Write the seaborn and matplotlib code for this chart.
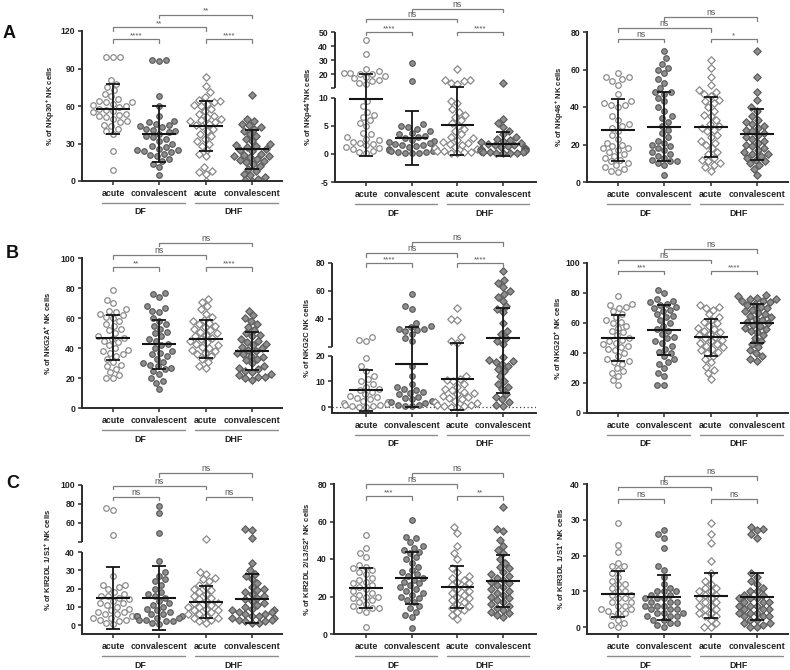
import warnings
warnings.filterwarnings('ignore')
import numpy as np
import pandas as pd
import matplotlib
matplotlib.use('Agg')
import matplotlib.pyplot as plt
import matplotlib.transforms as mtransforms
import seaborn as sns

# ------------------------------------------------------------------ data
groups = ['DF acute', 'DF convalescent', 'DHF acute', 'DHF convalescent']
tick_labels = ['acute', 'convalescent', 'acute', 'convalescent']
cohorts = ['DF', 'DHF']

# NKp30
nkp30_df_acute = [99, 99, 99, 81, 78, 75, 73, 70, 68, 66, 64, 63, 63, 62, 61, 60, 59, 58, 57, 56, 55, 54,
                  53, 52, 51, 50, 48, 47, 45, 44, 42, 40, 38, 24, 9]
nkp30_df_conv = [97, 97, 96, 68, 60, 52, 48, 47, 46, 45, 44, 43, 42, 41, 40, 39, 38, 36, 35, 34, 32, 30,
                 28, 27, 26, 25, 25, 24, 23, 22, 21, 20, 18, 16, 14, 11, 5]
nkp30_dhf_acute = [83, 76, 71, 67, 65, 64, 63, 62, 61, 60, 58, 56, 54, 52, 51, 50, 49, 48, 47, 46, 45, 44,
                   42, 40, 38, 36, 34, 32, 30, 28, 25, 22, 20, 11, 8, 7, 6, 0]
nkp30_dhf_conv = [69, 50, 48, 46, 45, 43, 42, 40, 38, 36, 34, 32, 30, 29, 28, 27, 26, 25, 24, 22, 21, 20,
                  20, 19, 18, 17, 16, 15, 14, 12, 10, 8, 6, 5, 3, 2, 1, 0]
nkp30_mean = [58, 37.5, 44, 25.5]
nkp30_sd = [20, 22.5, 20, 15.5]
nkp30_sig = ['****', '****', '**', '**']

# NKp44
nkp44_df_acute = [44, 34, 24, 22, 21, 21, 20, 20, 19, 18, 17, 16, 15, 14, 13, 9.5, 8.5, 7.5, 7, 6.5, 6,
                  5.5, 5, 3.8, 3.5, 3, 2.7, 2.5, 2.2, 2, 1.8, 1.5, 1.2, 1, 0.8, 0.5, 0.3, 0.2]
nkp44_df_conv = [28, 15, 5.3, 5, 4.8, 4.5, 4, 3.8, 3.5, 3.2, 3, 2.8, 2.5, 2.3, 2.2, 2, 1.8, 1.6, 1.5, 1.4,
                 1.2, 1, 0.9, 0.8, 0.7, 0.6, 0.5, 0.4, 0.3, 0.2, 0.2, 0.1]
nkp44_dhf_acute = [24, 16, 16, 15, 14, 13, 9.5, 9, 8, 7.5, 7, 6.5, 6, 5.5, 5, 4.5, 4, 3.5, 3, 2.8, 2.5,
                   2.2, 2, 1.8, 1.5, 1.2, 1, 0.8, 0.6, 0.5, 0.4, 0.3, 0.2, 0.1]
nkp44_dhf_conv = [14, 6.2, 5.5, 4.8, 4, 3.5, 3, 2.7, 2.5, 2.3, 2.1, 2, 1.8, 1.6, 1.5, 1.4, 1.2, 1, 0.9,
                  0.9, 0.8, 0.7, 0.6, 0.5, 0.5, 0.4, 0.3, 0.3, 0.2, 0.2, 0.1, 0.1]
nkp44_mean = [9.8, 2.8, 5.2, 1.8]
nkp44_sd = [10.1, 4.8, 5.4, 2.1]
nkp44_sig = ['****', '****', 'ns', 'ns']

# NKp46
nkp46_df_acute = [58, 56, 56, 55, 54, 52, 47, 43, 42, 41, 41, 40, 35, 33, 31, 30, 29, 27, 25, 23, 21, 20,
                  19, 18, 18, 17, 16, 15, 14, 13, 12, 11, 10, 9, 8, 7, 6, 5.5]
nkp46_df_conv = [70, 66, 63, 61, 60, 58, 55, 53, 50, 48, 48, 47, 45, 43, 40, 38, 35, 34, 32, 30, 28, 26,
                 24, 22, 21, 20, 19, 18, 17, 16, 15, 14, 13, 12, 11, 11, 10, 9, 4]
nkp46_dhf_acute = [65, 61, 56, 52, 49, 48, 47, 46, 44, 43, 42, 40, 38, 36, 35, 33, 31, 30, 29, 28, 27, 25,
                   24, 22, 21, 20, 18, 16, 15, 13, 12, 11, 10, 9, 8, 6]
nkp46_dhf_conv = [70, 56, 48, 44, 40, 38, 35, 33, 32, 31, 30, 29, 28, 27, 26, 25, 24, 23, 22, 21, 20, 19,
                  18, 17, 16, 15, 15, 14, 13, 12, 11, 10, 9, 7, 4]
nkp46_mean = [27.7, 29.5, 29.2, 25.5]
nkp46_sd = [16.5, 18.5, 16, 13.5]
nkp46_sig = ['ns', '*', 'ns', 'ns']

# NKG2A
nkg2a_df_acute = [79, 72, 70, 66, 65, 64, 63, 62, 61, 60, 58, 56, 55, 53, 52, 50, 48, 47, 46, 45, 44, 42,
                  40, 39, 38, 37, 36, 35, 33, 31, 29, 28, 26, 24, 22, 20, 20]
nkg2a_df_conv = [77, 76, 74, 68, 67, 65, 64, 60, 58, 56, 55, 53, 51, 50, 48, 46, 45, 43, 42, 40, 38, 37,
                 36, 35, 33, 31, 30, 29, 28, 27, 26, 25, 23, 20, 18, 17, 13]
nkg2a_dhf_acute = [73, 71, 68, 66, 63, 61, 59, 58, 57, 56, 55, 54, 53, 52, 51, 50, 49, 48, 47, 46, 45, 44,
                   43, 42, 41, 40, 39, 38, 37, 36, 35, 33, 31, 28, 27]
nkg2a_dhf_conv = [65, 62, 60, 58, 56, 54, 52, 50, 49, 48, 46, 45, 44, 43, 42, 41, 40, 39, 38, 37, 36, 35,
                  34, 33, 32, 30, 28, 27, 26, 25, 24, 23, 22, 21, 21, 20, 19]
nkg2a_mean = [47, 42.5, 46, 38]
nkg2a_sd = [15, 16.5, 12.5, 12.8]
nkg2a_sig = ['**', '****', 'ns', 'ns']

# NKG2C
nkg2c_df_acute = [27, 25, 24, 19, 16, 14, 12, 11, 10, 9, 8, 7, 6.5, 6, 5, 4.5, 4, 3.5, 3, 2.5, 2, 1.8,
                  1.5, 1.2, 1, 0.8, 0.5, 0.3, 0.2, 0.1]
nkg2c_df_conv = [58, 49, 47, 37, 35, 34, 33, 33, 32, 31, 29, 26, 24, 16, 12, 9, 8, 7, 6.5, 6, 5.5, 5, 4,
                 3.5, 3, 2.5, 2, 1.5, 1, 0.8, 0.5, 0.3]
nkg2c_dhf_acute = [48, 40, 39, 27, 24, 23, 12, 11, 10.5, 10, 9, 8, 7, 6.5, 6, 5.5, 5, 4.5, 4, 3.5, 3,
                   2.5, 2, 1.5, 1, 0.8, 0.5, 0.3, 0.2, 0.1]
nkg2c_dhf_conv = [74, 68, 66, 63, 60, 58, 56, 53, 49, 47, 45, 37, 31, 29, 26, 24, 22, 19.5, 18.5, 18,
                  17.5, 17, 16, 15, 14, 12, 10, 9, 8, 7, 5, 4, 3, 2, 1, 0.5]
nkg2c_mean = [6.5, 17, 11, 26.5]
nkg2c_sd = [8, 17, 12, 21]
nkg2c_sig = ['****', '****', 'ns', 'ns']

# NKG2D
nkg2d_df_acute = [78, 73, 72, 71, 70, 68, 66, 64, 62, 61, 60, 58, 57, 55, 54, 52, 50, 49, 48, 47, 46, 45,
                  44, 43, 42, 40, 38, 36, 35, 34, 33, 30, 28, 27, 25, 22, 19]
nkg2d_df_conv = [82, 80, 76, 75, 74, 73, 72, 71, 70, 69, 68, 66, 65, 64, 62, 60, 58, 56, 55, 53, 51, 50,
                 48, 47, 45, 43, 41, 40, 38, 36, 34, 33, 30, 27, 25, 19, 19]
nkg2d_dhf_acute = [72, 71, 70, 69, 66, 64, 62, 61, 60, 58, 57, 56, 55, 54, 53, 52, 51, 50, 49, 48, 47, 46,
                   45, 44, 43, 42, 41, 40, 38, 36, 34, 31, 29, 27, 23]
nkg2d_dhf_conv = [79, 78, 77, 76, 76, 75, 75, 74, 73, 72, 71, 70, 69, 68, 67, 66, 65, 64, 63, 62, 61, 60,
                  59, 58, 57, 56, 55, 54, 52, 50, 48, 46, 44, 42, 40, 38, 36, 35]
nkg2d_mean = [50, 55.5, 50.5, 60]
nkg2d_sd = [15.5, 16.5, 12.3, 13]
nkg2d_sig = ['***', '****', 'ns', 'ns']

# KIR2DL1/S1
kir2dl1_df_acute = [76, 74, 47, 27, 22, 22, 21, 20, 18, 17, 16, 16, 15, 14, 13, 12, 12, 11, 10, 9, 8, 7,
                    7, 6, 6, 5, 5, 4, 4, 3, 3, 2, 1, 0.5]
kir2dl1_df_conv = [78, 70, 49, 35, 29, 27, 25, 24, 22, 20, 18, 17, 16, 15, 13, 12, 11, 10, 9, 8, 7, 6, 6,
                   5, 5, 5, 4, 4, 3, 3, 2, 2, 1, 0.5]
kir2dl1_dhf_acute = [43, 29, 28, 26, 25, 24, 22, 21, 20, 19, 18, 17, 16, 15, 14, 13, 12, 12, 11, 10, 10,
                     9, 8, 8, 7, 6, 6, 5, 4, 4, 3, 2, 1]
kir2dl1_dhf_conv = [54, 53, 44, 34, 30, 28, 27, 25, 23, 21, 20, 19, 18, 17, 16, 15, 14, 13, 12, 11, 10, 9,
                    8, 8, 7, 7, 6, 6, 5, 5, 4, 4, 3, 3, 2, 2, 1, 1]
kir2dl1_mean = [15, 15, 12.5, 14.5]
kir2dl1_sd = [17, 17.5, 8.7, 13.3]
kir2dl1_sig = ['ns', 'ns', 'ns', 'ns']

# KIR2DL2/L3/S2
kir2dl2_df_acute = [53, 46, 43, 41, 37, 36, 35, 34, 33, 32, 30, 29, 28, 27, 26, 25, 24, 23, 22, 21, 20,
                    20, 19, 18, 17, 16, 15, 14, 14, 13, 12, 4]
kir2dl2_df_conv = [61, 52, 51, 49, 47, 46, 45, 44, 43, 41, 40, 38, 36, 34, 33, 32, 31, 30, 29, 28, 27, 26,
                   25, 24, 23, 22, 21, 20, 19, 18, 17, 15, 14, 12, 10, 9, 3]
kir2dl2_dhf_acute = [57, 54, 47, 43, 40, 35, 33, 31, 30, 29, 28, 27, 26, 25, 24, 23, 22, 21, 20, 19, 18,
                     17, 16, 15, 14, 13, 12, 10, 8]
kir2dl2_dhf_conv = [68, 56, 55, 50, 47, 45, 43, 40, 38, 36, 35, 33, 32, 31, 30, 29, 28, 27, 26, 25, 24,
                    23, 22, 21, 20, 19, 18, 17, 16, 15, 14, 13, 12, 11, 10, 9]
kir2dl2_mean = [24.5, 30, 25, 28.3]
kir2dl2_sd = [10.8, 14, 11.2, 14]
kir2dl2_sig = ['***', '**', 'ns', 'ns']

# KIR3DL1/S1
kir3dl1_df_acute = [29, 23, 21, 18, 17, 17, 16, 15, 14, 13, 12, 12, 11, 10, 10, 9, 9, 8, 8, 7, 7, 6, 6,
                    5, 5, 4.5, 4, 4, 3, 2, 1, 0.5, 0]
kir3dl1_df_conv = [27, 26, 25, 22, 17, 16, 14, 12, 11, 10, 10, 10, 9, 9, 8, 8, 8, 7, 7, 7, 6, 6, 6, 5, 5,
                   5, 4, 4, 4, 3, 3, 3, 2, 2, 1, 1, 0.5, 0]
kir3dl1_dhf_acute = [29, 26, 23.5, 18.5, 15, 13, 12, 11, 11, 10, 10, 9, 9, 8, 8, 7, 7, 6, 6, 5, 5, 4, 4,
                     3, 3, 2, 1, 0, 0]
kir3dl1_dhf_conv = [28, 27.5, 27, 26, 25, 15, 14, 13, 12, 11, 10, 10, 9, 9, 8, 8, 8, 7, 7, 7, 6, 6, 6, 5,
                    5, 5, 4, 4, 4, 3, 3, 3, 2, 2, 1, 1, 0.5, 0, 0]
kir3dl1_mean = [9.3, 8.3, 8.8, 8.5]
kir3dl1_sd = [6.5, 6.3, 6.4, 6.6]
kir3dl1_sig = ['ns', 'ns', 'ns', 'ns']

# ------------------------------------------------------------------ style
W, H = 790, 670
sns.set_theme(style='ticks')
plt.rcParams['font.family'] = ['Liberation Sans', 'DejaVu Sans']
plt.rcParams['mathtext.fontset'] = 'custom'
plt.rcParams['mathtext.rm'] = 'Liberation Sans:bold'
plt.rcParams['mathtext.bf'] = 'Liberation Sans:bold'
plt.rcParams['mathtext.it'] = 'Liberation Sans:bold'

SPINE = '#2b2b2b'
BRK = '#7c7c7c'
STEP = 0.82            # distance between group centres in data units (swarm width is 0.8)
POS = np.arange(4) * STEP
styles = [  # marker, face, edge
    ('o', 'white', '#858585'),
    ('o', '#8e8e8e', '#5a5a5a'),
    ('D', 'white', '#858585'),
    ('D', '#8e8e8e', '#5a5a5a'),
]

panels = [
    dict(vals=[nkp30_df_acute, nkp30_df_conv, nkp30_dhf_acute, nkp30_dhf_conv], mean=nkp30_mean,
         sd=nkp30_sd, sig=nkp30_sig, ylabel=r'% of NKp30$^{+}$ NK cells',
         ticks=[0, 30, 60, 90, 120], tl=None, ylim=(0, 120), brk=None,
         lev=(113.6, 123, 133), box=(82, 31, 282, 181), cat0=113, sp=46.3, lab=53),
    dict(vals=[nkp44_df_acute, nkp44_df_conv, nkp44_dhf_acute, nkp44_dhf_conv], mean=nkp44_mean,
         sd=nkp44_sd, sig=nkp44_sig, ylabel=r'% of NKp44$^{+}$NK cells',
         ticks=[-5, 0, 5, 10, 10.0001, 20, 30, 40, 50], tl=['-5', '0', '5', '10', '', '20', '30', '40', '50'],
         ylim=(-5, 50), brk=(10, 1.7, 0.25),
         lev=(50, 59.3, 66.4), box=(335, 32, 536, 182), cat0=366, sp=45.7, lab=311),
    dict(vals=[nkp46_df_acute, nkp46_df_conv, nkp46_dhf_acute, nkp46_dhf_conv], mean=nkp46_mean,
         sd=nkp46_sd, sig=nkp46_sig, ylabel=r'% of NKp46$^{+}$ NK cells',
         ticks=[0, 20, 40, 60, 80], tl=None, ylim=(0, 80), brk=None,
         lev=(76.3, 82.1, 88), box=(587, 32, 788, 182), cat0=618, sp=46.3, lab=562),
    dict(vals=[nkg2a_df_acute, nkg2a_df_conv, nkg2a_dhf_acute, nkg2a_dhf_conv], mean=nkg2a_mean,
         sd=nkg2a_sd, sig=nkg2a_sig, ylabel=r'% of NKG2A$^{+}$ NK cells',
         ticks=[0, 20, 40, 60, 80, 100], tl=None, ylim=(0, 100), brk=None,
         lev=(94, 102, 110), box=(82, 258, 282, 408), cat0=113, sp=46.3, lab=49),
    dict(vals=[nkg2c_df_acute, nkg2c_df_conv, nkg2c_dhf_acute, nkg2c_dhf_conv], mean=nkg2c_mean,
         sd=nkg2c_sd, sig=nkg2c_sig, ylabel='% of NKG2C NK cells',
         ticks=[0, 10, 20, 20.0001, 40, 60, 80], tl=['0', '10', '20', '', '40', '60', '80'],
         ylim=(-2.3, 80), brk=(20, 3.5, 0.545),
         lev=(80, 87, 95), box=(332, 263, 536, 413), cat0=366, sp=45.7, lab=307),
    dict(vals=[nkg2d_df_acute, nkg2d_df_conv, nkg2d_dhf_acute, nkg2d_dhf_conv], mean=nkg2d_mean,
         sd=nkg2d_sd, sig=nkg2d_sig, ylabel=r'% of NKG2D$^{+}$ NK cells',
         ticks=[0, 20, 40, 60, 80, 100], tl=None, ylim=(0, 100), brk=None,
         lev=(94.7, 102, 109.3), box=(587, 263, 788, 413), cat0=618, sp=46.3, lab=559),
    dict(vals=[kir2dl1_df_acute, kir2dl1_df_conv, kir2dl1_dhf_acute, kir2dl1_dhf_conv], mean=kir2dl1_mean,
         sd=kir2dl1_sd, sig=kir2dl1_sig, ylabel=r'% of KIR2DL 1/S1$^{+}$ NK cells',
         ticks=[0, 10, 20, 30, 40, 40.0001, 60, 80, 100],
         tl=['0', '10', '20', '30', '40', '', '60', '80', '100'],
         ylim=(-4.9, 100), brk=(40, 5.5, 0.52),
         lev=(87.4, 99, 112.6), box=(82, 485, 282, 634), cat0=113, sp=46.3, lab=49),
    dict(vals=[kir2dl2_df_acute, kir2dl2_df_conv, kir2dl2_dhf_acute, kir2dl2_dhf_conv], mean=kir2dl2_mean,
         sd=kir2dl2_sd, sig=kir2dl2_sig, ylabel=r'% of KIR2DL 2/L3/S2$^{+}$ NK cells',
         ticks=[0, 20, 40, 60, 80], tl=None, ylim=(0, 80), brk=None,
         lev=(73.6, 80, 85.8), box=(334, 484, 536, 634), cat0=366, sp=45.7, lab=308),
    dict(vals=[kir3dl1_df_acute, kir3dl1_df_conv, kir3dl1_dhf_acute, kir3dl1_dhf_conv], mean=kir3dl1_mean,
         sd=kir3dl1_sd, sig=kir3dl1_sig, ylabel=r'% of KIR3DL 1/S1$^{+}$ NK cells',
         ticks=[0, 10, 20, 30, 40], tl=None, ylim=(-1.95, 40), brk=None,
         lev=(35.8, 39.2, 42.2), box=(587, 484, 788, 634), cat0=618, sp=46.3, lab=562),
]

fig = plt.figure(figsize=(W / 100, H / 100), dpi=100)


def make_scale(b, gap, k):
    def fwd(y):
        y = np.asarray(y, dtype=float)
        return np.where(y <= b, y, b + gap + (y - b) * k)

    def inv(t):
        t = np.asarray(t, dtype=float)
        return np.where(t <= b, t, np.where(t < b + gap, b, b + (t - b - gap) / k))
    return fwd, inv


for p in panels:
    l, t, r, b = p['box']
    ax = fig.add_axes([l / W, 1 - b / H, (r - l) / W, (b - t) / H])
    if p['brk'] is not None:
        fwd, inv = make_scale(*p['brk'])
        ax.set_yscale('function', functions=(fwd, inv))
    ax.set_ylim(*p['ylim'])
    xlim = ((l - p['cat0']) / p['sp'] * STEP, (r - p['cat0']) / p['sp'] * STEP)
    ax.set_xlim(*xlim)

    for i, ((m, fc, ec), v) in enumerate(zip(styles, p['vals'])):
        sub = pd.DataFrame({'pos': np.full(len(v), POS[i]), 'value': np.asarray(v, float)})
        sns.swarmplot(data=sub, x='pos', y='value', native_scale=True, orient='x', marker=m,
                      color=fc, edgecolor=ec, linewidth=0.85, size=4.0 if m == 'o' else 3.8,
                      ax=ax, zorder=2, warn_thresh=1.0)
    ax.set_xlim(*xlim)
    ax.set_ylim(*p['ylim'])

    # mean +/- SD
    ax.errorbar(POS, p['mean'], yerr=p['sd'], fmt='none', ecolor='#151515', elinewidth=1.3,
                capsize=5, capthick=1.3, zorder=5)
    ax.hlines(p['mean'], POS - 0.30, POS + 0.30, color='#151515', lw=1.5, zorder=5)

    if p['ylabel'].startswith('% of NKG2C'):
        ax.axhline(0, ls=(0, (1, 2)), color='#444444', lw=0.9, zorder=1)

    # axes styling
    sns.despine(ax=ax)
    ax.set_xlabel('')
    ax.set_ylabel(p['ylabel'], fontsize=5.6, fontweight='bold', color='#222222')
    ax.yaxis.set_label_coords(-(l - p['lab'] - 4) / (r - l), 0.5)
    ax.set_xticks(POS)
    ax.set_xticklabels(tick_labels, fontsize=6.4, fontweight='bold', color='#222222')
    ax.set_yticks(p['ticks'])
    if p['tl'] is not None:
        ax.set_yticklabels(p['tl'])
    else:
        ax.set_yticklabels([str(v) for v in p['ticks']])
    for lbl in ax.get_yticklabels():
        lbl.set_fontsize(6.2)
        lbl.set_fontweight('bold')
        lbl.set_color('#222222')
    ax.tick_params(axis='both', length=3, width=1.1, color=SPINE, pad=2)
    ax.tick_params(axis='x', pad=3)
    ax.spines['bottom'].set_color(SPINE)
    ax.spines['bottom'].set_linewidth(1.4)
    ax.spines['left'].set_color(SPINE)
    ax.spines['left'].set_linewidth(1.4)
    ax.grid(False)

    if p['brk'] is not None:
        bv = p['brk'][0]
        ax.spines['left'].set_visible(False)
        trans = mtransforms.blended_transform_factory(ax.transAxes, ax.transData)
        ax.plot([0, 0], [p['ylim'][0], bv], transform=trans, color=SPINE, lw=1.4,
                clip_on=False, solid_capstyle='butt', zorder=6)
        ax.plot([0, 0], [bv + 0.0001, p['ylim'][1]], transform=trans, color=SPINE, lw=1.4,
                clip_on=False, solid_capstyle='butt', zorder=6)

    # group underlines and labels
    h = b - t
    tb = mtransforms.blended_transform_factory(ax.transData, ax.transAxes)
    for (x0, x1, xc), name in zip([(-0.24, 1.56, 0.6), (1.77, 3.56, 2.6)], cohorts):
        ax.plot([x0 * STEP, x1 * STEP], [-22 / h, -22 / h], transform=tb, color='#8c8c8c', lw=1.0,
                clip_on=False)
        ax.text(xc * STEP, -31 / h, name, transform=tb, ha='center', va='center', fontsize=6.4,
                fontweight='bold', color='#222222')

    # significance brackets
    def bracket(i1, i2, y, txt):
        x1, x2 = POS[i1], POS[i2]
        yd = ax.transData.transform((x1, y))[1]
        ylo = ax.transData.inverted().transform((0, yd - 3.5))[1]
        ax.plot([x1, x1, x2, x2], [ylo, y, y, ylo], color=BRK, lw=0.9, clip_on=False,
                solid_joinstyle='miter', zorder=6)
        ax.text((x1 + x2) / 2, y, txt, ha='center', va='bottom', fontsize=6.3 if txt == 'ns' else 5.8,
                color='#555555', fontweight='normal', clip_on=False)

    L1, L2, L3 = p['lev']
    bracket(0, 1, L1, p['sig'][0])
    bracket(2, 3, L1, p['sig'][1])
    bracket(0, 2, L2, p['sig'][2])
    bracket(1, 3, L3, p['sig'][3])

for txt, x, y in [('A', 9, 33), ('B', 12, 253), ('C', 13, 483)]:
    fig.text(x / W, 1 - y / H, txt, ha='center', va='center', fontsize=13, fontweight='bold',
             color='#111111')

fig.savefig('out.png', dpi=100)
